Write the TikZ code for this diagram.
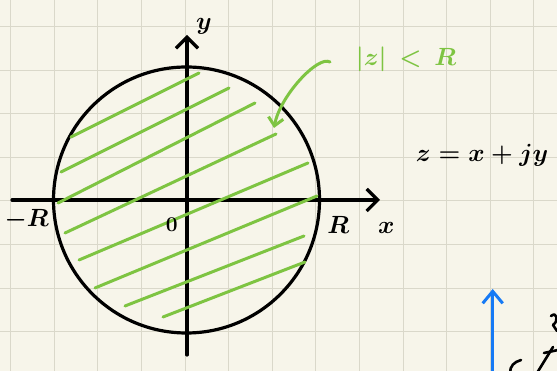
\documentclass[tikz,border=0pt]{standalone}
\usepackage{tikz}
\usetikzlibrary{arrows.meta,positioning,calc}
\definecolor{paper}{RGB}{247,245,234}
\definecolor{gridgray}{RGB}{218,216,202}
\definecolor{hatchgreen}{RGB}{126,196,66}
\definecolor{penblue}{RGB}{22,122,245}

\begin{document}
\begin{tikzpicture}[x=1pt, y=1pt, line cap=round, line join=round,
		gridline/.style={gridgray, line width=1pt},
		pen/.style={black, line width=3.2pt},
		hatch/.style={hatchgreen, line width=3pt},
		axis/.style={pen, -{Straight Barb[length=11pt,width=22pt]}},
		lbl/.style={inner sep=0pt, font=\fontsize{24}{26}\selectfont\boldmath}]

		% paper and grid
		\fill [paper] (0,0) rectangle (557,371);
		\useasboundingbox (0,0) rectangle (557,371);
		\clip (0,0) rectangle (557,371);
		\foreach \k in {0,...,12}
			\draw [gridline] ({10.7+43.6*\k},0) -- ++(0,371);
		\foreach \k in {0,...,7}
			\draw [gridline] (0,{344.5-43.6*\k}) -- ++(557,0);

		% disc and axes
		\node [pen, draw, circle, minimum size=266pt, inner sep=0pt] (disc) at (186.5,171) {};
		\coordinate (O) at (187,171);
		\coordinate (xs) at (12,171);
		\coordinate (xe) at (380,171);
		\coordinate (ys) at (187,16);
		\coordinate (ye) at (187,336);
		\draw [axis] (xs) -- (xe);
		\draw [axis] (ys) -- (ye);

		% hatching
		\foreach \a/\b/\c/\d in {71/234/199/298, 61/199/229/283, 58/168/255/268, 65/138/276/237,
				79/111/308/208, 95/83/317/175, 125/65/304/135, 163/54/305/109}
			\draw [hatch] (\a,\b) -- (\c,\d);

		% labels
		\node [lbl, font=\fontsize{27}{29}\selectfont\boldmath, above right=0pt and 9pt of ye] (ylab) {$y$};
		\node [lbl, font=\fontsize{27}{29}\selectfont\boldmath, below right=22pt and -2pt of xe] (xlab) {$x$};
		\node [lbl, below right=16pt and 6pt of disc.east] (rlab) {$R$};
		\node [lbl, below left=9pt and 3pt of disc.west] (mrlab) {$-R$};
		\node [lbl, font=\fontsize{21}{23}\selectfont\bfseries, below left=18pt and 9pt of O] (olab) {0};
		\node [lbl, font=\fontsize{27}{29}\selectfont\boldmath] (zdef) at (482,216) {$z = x + jy$};
		\node [lbl, font=\fontsize{26}{28}\selectfont\boldmath, text=hatchgreen] (zlab) at (406,312) {$|z|\,<\,R$};

		% pointer to the region
		\coordinate (hook) at (330,309);
		\coordinate (target) at (274,243);
		\draw [hatch, -{Straight Barb[length=8pt,width=15pt]}] (hook) .. controls (318,316) and (280,275) .. (target);

		% pieces of the next sketch
		\coordinate (bs) at (492.7,-5);
		\coordinate (be) at (492.7,82);
		\draw [penblue, line width=3pt, -{Straight Barb[length=12pt,width=20pt]}] (bs) -- (be);
		\draw [pen, line width=2.6pt] (521,11) .. controls (514,9) and (510,5) .. (510,-2);
		\draw [pen, line width=2.6pt] (537,-2) -- (553,24);
		\draw [pen, line width=2.6pt] (544,18) -- (558,21);
		\draw [pen, line width=2.6pt] (551,55) .. controls (557,60) and (559,50) .. (553,46) -- (557,40);

	\end{tikzpicture}
\end{document}
